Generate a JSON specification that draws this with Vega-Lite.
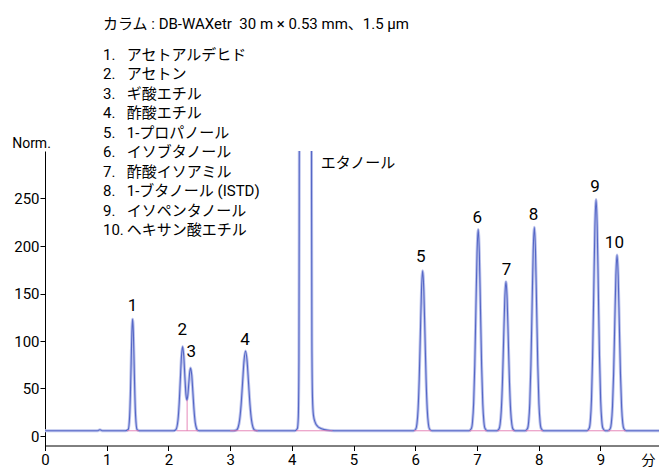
{
  "$schema": "https://vega.github.io/schema/vega-lite/v6.json",
  "width": 614,
  "height": 294.5,
  "autosize": "none",
  "padding": {"left": 45, "top": 151, "right": 0, "bottom": 22.5},
  "background": "white",
  "config": {
    "view": {"stroke": null},
    "font": "Roboto, Noto Sans CJK JP",
    "axis": {"grid": false, "domainColor": "#000000", "tickColor": "#000000", "labelColor": "#000000", "titleColor": "#000000", "titleFontWeight": "normal", "labelFont": "Roboto", "titleFont": "Roboto, Noto Sans CJK JP"}
  },
  "datasets": {
    "chrom": [
      {"t":0,"v":5.5},{"t":0.85,"v":5.5},{"t":0.875,"v":6.2},{"t":0.89,"v":6.6},{"t":0.905,"v":6.2},{"t":0.93,"v":5.5},{"t":1.30,"v":5.5},
      {"t":1.348,"v":6.8},{"t":1.372,"v":21.4},{"t":1.384,"v":43.7},{"t":1.396,"v":76.8},{"t":1.408,"v":109.2},{"t":1.42,"v":123},{"t":1.432,"v":109.2},{"t":1.444,"v":76.8},{"t":1.456,"v":43.7},{"t":1.468,"v":21.4},{"t":1.492,"v":6.8},{"t":1.53,"v":5.5},
      {"t":2.08,"v":5.5},
      {"t":2.12,"v":6.6},{"t":2.155,"v":16.9},{"t":2.175,"v":34.8},{"t":2.193,"v":59.2},{"t":2.2115,"v":83.6},{"t":2.23,"v":94.1},{"t":2.2485,"v":84.3},{"t":2.267,"v":62.0},{"t":2.285,"v":43.3},{"t":2.30,"v":38.0},{"t":2.315,"v":43.3},{"t":2.332,"v":57.1},{"t":2.346,"v":67.5},{"t":2.36,"v":71.6},{"t":2.3785,"v":63.7},{"t":2.397,"v":45.5},{"t":2.415,"v":27.4},{"t":2.434,"v":14.4},{"t":2.453,"v":8.4},{"t":2.47,"v":6.2},{"t":2.50,"v":5.5},
      {"t":3.05,"v":5.5},
      {"t":3.106,"v":6.4},{"t":3.13,"v":9.2},{"t":3.154,"v":16.9},{"t":3.178,"v":32.8},{"t":3.202,"v":56.4},{"t":3.226,"v":79.6},{"t":3.25,"v":89.5},{"t":3.274,"v":79.6},{"t":3.298,"v":56.4},{"t":3.322,"v":32.8},{"t":3.346,"v":16.9},{"t":3.37,"v":9.2},{"t":3.394,"v":6.4},{"t":3.45,"v":5.5},
      {"t":4.05,"v":5.5},
      {"t":4.09,"v":8},{"t":4.105,"v":20},{"t":4.115,"v":80},{"t":4.12,"v":250},{"t":4.125,"v":500},{"t":4.315,"v":500},{"t":4.32,"v":250},{"t":4.325,"v":100},{"t":4.335,"v":40},{"t":4.35,"v":22},{"t":4.38,"v":14},{"t":4.42,"v":10},{"t":4.47,"v":8},{"t":4.53,"v":6.7},{"t":4.62,"v":5.8},{"t":4.75,"v":5.5},
      {"t":5.97,"v":5.5},
      {"t":6.009,"v":7.4},{"t":6.0275,"v":12.9},{"t":6.046,"v":28.3},{"t":6.0645,"v":60.2},{"t":6.083,"v":107.7},{"t":6.1015,"v":154.2},{"t":6.12,"v":174},{"t":6.1385,"v":154.2},{"t":6.157,"v":107.7},{"t":6.1755,"v":60.2},{"t":6.194,"v":28.3},{"t":6.2125,"v":12.9},{"t":6.231,"v":7.4},{"t":6.27,"v":5.5},
      {"t":6.87,"v":5.5},
      {"t":6.909,"v":7.9},{"t":6.9275,"v":14.8},{"t":6.946,"v":34.2},{"t":6.9645,"v":74.3},{"t":6.983,"v":134.1},{"t":7.0015,"v":192.6},{"t":7.02,"v":217.5},{"t":7.0385,"v":192.6},{"t":7.057,"v":134.1},{"t":7.0755,"v":74.3},{"t":7.094,"v":34.2},{"t":7.1125,"v":14.8},{"t":7.131,"v":7.9},{"t":7.17,"v":5.5},
      {"t":7.32,"v":5.5},
      {"t":7.356,"v":7.2},{"t":7.375,"v":12.4},{"t":7.394,"v":26.7},{"t":7.413,"v":56.5},{"t":7.432,"v":100.7},{"t":7.451,"v":144.1},{"t":7.47,"v":162.5},{"t":7.489,"v":144.1},{"t":7.508,"v":100.7},{"t":7.527,"v":56.5},{"t":7.546,"v":26.7},{"t":7.565,"v":12.4},{"t":7.584,"v":7.2},{"t":7.62,"v":5.5},
      {"t":7.78,"v":5.5},
      {"t":7.819,"v":7.9},{"t":7.8375,"v":14.9},{"t":7.856,"v":34.5},{"t":7.8745,"v":75.0},{"t":7.893,"v":135.4},{"t":7.9115,"v":194.5},{"t":7.93,"v":219.7},{"t":7.9485,"v":194.5},{"t":7.967,"v":135.4},{"t":7.9855,"v":75.0},{"t":8.004,"v":34.5},{"t":8.0225,"v":14.9},{"t":8.041,"v":7.9},{"t":8.08,"v":5.5},
      {"t":8.78,"v":5.5},
      {"t":8.819,"v":8.2},{"t":8.8375,"v":16.2},{"t":8.856,"v":38.4},{"t":8.8745,"v":84.6},{"t":8.893,"v":153.2},{"t":8.9115,"v":220.4},{"t":8.93,"v":249},{"t":8.9485,"v":220.4},{"t":8.967,"v":153.2},{"t":8.9855,"v":84.6},{"t":9.004,"v":38.4},{"t":9.0225,"v":16.2},{"t":9.041,"v":8.2},{"t":9.08,"v":5.5},
      {"t":9.12,"v":5.5},
      {"t":9.159,"v":7.6},{"t":9.1775,"v":13.6},{"t":9.196,"v":30.5},{"t":9.2145,"v":65.6},{"t":9.233,"v":117.7},{"t":9.2515,"v":168.8},{"t":9.27,"v":190.5},{"t":9.2885,"v":168.8},{"t":9.307,"v":117.7},{"t":9.3255,"v":65.6},{"t":9.344,"v":30.5},{"t":9.3625,"v":13.6},{"t":9.381,"v":7.6},{"t":9.42,"v":5.5},
      {"t":9.95,"v":5.5}
    ],
    "base": [
      {"seg":"p1","t":1.33,"v":5.5},{"seg":"p1","t":1.52,"v":5.5},
      {"seg":"p23","t":2.13,"v":5.5},{"seg":"p23","t":2.48,"v":5.5},
      {"seg":"drop","t":2.303,"v":5.5},{"seg":"drop","t":2.303,"v":38},
      {"seg":"p4","t":3.0,"v":5.5},{"seg":"p4","t":3.45,"v":5.5},
      {"seg":"eth","t":4.07,"v":5.5},{"seg":"eth","t":4.66,"v":5.5},
      {"seg":"p5","t":5.98,"v":5.5},{"seg":"p5","t":6.26,"v":5.5},
      {"seg":"p6","t":6.88,"v":5.5},{"seg":"p6","t":7.16,"v":5.5},
      {"seg":"p7","t":7.33,"v":5.5},{"seg":"p7","t":7.61,"v":5.5},
      {"seg":"p8","t":7.79,"v":5.5},{"seg":"p8","t":8.07,"v":5.5},
      {"seg":"p9","t":8.79,"v":5.5},{"seg":"p9","t":9.07,"v":5.5},
      {"seg":"p10","t":9.12,"v":5.5},{"seg":"p10","t":9.41,"v":5.5}
    ],
    "peaks": [
      {"t":1.418,"v":137,"label":"1"},
      {"t":2.224,"v":111.6,"label":"2"},
      {"t":2.37,"v":88.9,"label":"3"},
      {"t":3.24,"v":101,"label":"4"},
      {"t":6.09,"v":188,"label":"5"},
      {"t":7.006,"v":229,"label":"6"},
      {"t":7.48,"v":174.7,"label":"7"},
      {"t":7.915,"v":232.6,"label":"8"},
      {"t":8.914,"v":261.6,"label":"9"},
      {"t":9.227,"v":202.8,"label":"10"}
    ],
    "ethanol": [{"t":4.468,"v":287,"label":"エタノール"}],
    "heading": [{"t":0.94,"v":428.1,"text":"カラム : DB-WAXetr\u00a0\u00a030 m × 0.53 mm、1.5 µm"}],
    "numbers": [{"t":0.94,"v":395.8,"text":"1.\n2.\n3.\n4.\n5.\n6.\n7.\n8.\n9.\n10."}],
    "names": [{"t":1.324,"v":395.8,"text":"アセトアルデヒド\nアセトン\nギ酸エチル\n酢酸エチル\n1-プロパノール\nイソブタノール\n酢酸イソアミル\n1-ブタノール (ISTD)\nイソペンタノール\nヘキサン酸エチル"}]
  },
  "layer": [
    {
      "data": {"name": "chrom"},
      "mark": {"type": "line", "interpolate": "monotone", "clip": true, "stroke": "#bcc3ec", "strokeWidth": 3},
      "encoding": {
        "x": {"field": "t", "type": "quantitative", "scale": {"domain": [0, 9.95], "nice": false, "zero": false},
              "axis": {"values": [0,1,2,3,4,5,6,7,8,9], "format": "d", "tickSize": 5, "labelFontSize": 15, "labelPadding": 2, "labelFlush": false,
                       "title": "分", "titleFontSize": 14, "titleX": 603, "titleY": 18.5, "titleAlign": "center", "titleBaseline": "alphabetic"}},
        "y": {"field": "v", "type": "quantitative", "scale": {"domain": [-10, 300], "nice": false, "zero": false},
              "axis": {"values": [0,50,100,150,200,250], "format": "d", "tickSize": 5, "labelFontSize": 15, "labelPadding": 1,
                       "title": "Norm.", "titleFontSize": 14, "titleAngle": 0, "titleX": -14, "titleY": -4, "titleAlign": "center", "titleBaseline": "alphabetic"}}
      }
    },
    {
      "data": {"name": "chrom"},
      "mark": {"type": "line", "interpolate": "monotone", "clip": true, "stroke": "#5567c6", "strokeWidth": 1.1},
      "encoding": {"x": {"field": "t", "type": "quantitative"}, "y": {"field": "v", "type": "quantitative"}}
    },
    {
      "data": {"name": "base"},
      "mark": {"type": "line", "stroke": "#e274ae", "strokeWidth": 1, "opacity": 0.85},
      "encoding": {"x": {"field": "t", "type": "quantitative"}, "y": {"field": "v", "type": "quantitative"}, "detail": {"field": "seg"}}
    },
    {
      "data": {"name": "peaks"},
      "mark": {"type": "text", "fontSize": 17, "baseline": "middle", "align": "center", "color": "#000000"},
      "encoding": {"x": {"field": "t", "type": "quantitative"}, "y": {"field": "v", "type": "quantitative"}, "text": {"field": "label"}}
    },
    {
      "data": {"name": "ethanol"},
      "mark": {"type": "text", "fontSize": 15, "baseline": "middle", "align": "left", "color": "#000000", "font": "Noto Sans CJK JP"},
      "encoding": {"x": {"field": "t", "type": "quantitative"}, "y": {"field": "v", "type": "quantitative"}, "text": {"field": "label"}}
    },
    {
      "data": {"name": "heading"},
      "mark": {"type": "text", "fontSize": 15, "baseline": "alphabetic", "align": "left", "color": "#000000"},
      "encoding": {"x": {"field": "t", "type": "quantitative"}, "y": {"field": "v", "type": "quantitative"}, "text": {"field": "text"}}
    },
    {
      "data": {"name": "numbers"},
      "mark": {"type": "text", "fontSize": 15, "baseline": "alphabetic", "align": "left", "color": "#000000", "lineBreak": "\n", "lineHeight": 19.45},
      "encoding": {"x": {"field": "t", "type": "quantitative"}, "y": {"field": "v", "type": "quantitative"}, "text": {"field": "text"}}
    },
    {
      "data": {"name": "names"},
      "mark": {"type": "text", "fontSize": 15, "baseline": "alphabetic", "align": "left", "color": "#000000", "lineBreak": "\n", "lineHeight": 19.45},
      "encoding": {"x": {"field": "t", "type": "quantitative"}, "y": {"field": "v", "type": "quantitative"}, "text": {"field": "text"}}
    }
  ]
}
